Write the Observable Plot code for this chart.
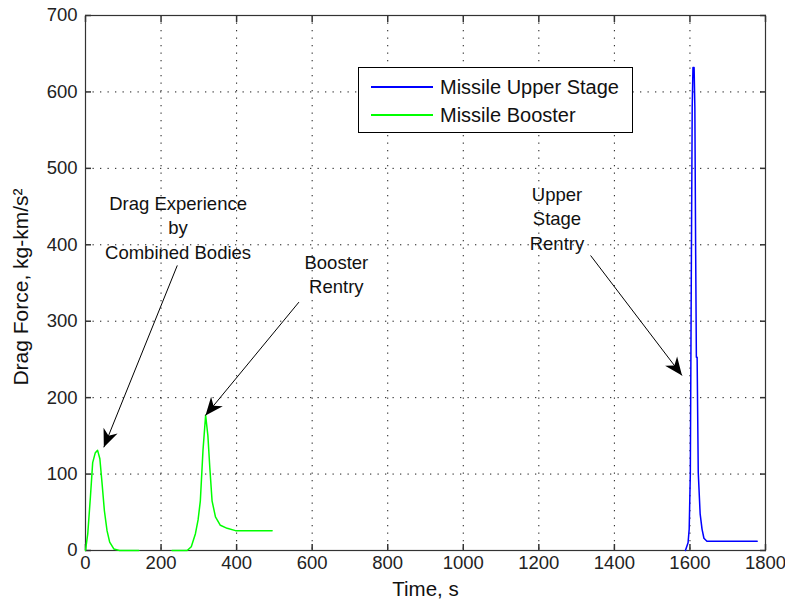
<!DOCTYPE html>
<html><head><meta charset="utf-8">
<script src="https://cdn.jsdelivr.net/npm/d3@7"></script>
<script src="https://cdn.jsdelivr.net/npm/@observablehq/plot@0.6"></script>
<style>
body{margin:0;background:#fff;}
#wrap{position:relative;width:785px;height:607px;font-family:"Liberation Sans",Arial,sans-serif;}
#legend{position:absolute;left:358px;top:67px;width:275px;height:66px;border:1px solid #000;background:#fff;box-sizing:border-box;}
.row{position:absolute;left:12px;height:24px;display:flex;align-items:center;font-size:20px;color:#111;white-space:nowrap;}
.sw{display:inline-block;width:62px;height:2px;margin-right:7px;}
</style></head><body><div id="wrap"></div>
<script>
// ---- data ----
const xTicks = [0, 200, 400, 600, 800, 1000, 1200, 1400, 1600, 1800];
const yTicks = [0, 100, 200, 300, 400, 500, 600, 700];
const seriesNames = ["Missile Upper Stage", "Missile Booster"];
const seriesColors = ["#0000ff", "#00ff00"];

const upperTime  = [1588, 1595, 1598, 1601, 1604, 1606, 1608, 1611, 1613, 1615, 1617, 1619, 1622, 1627, 1632, 1637, 1645, 1778];
const upperForce = [0,    10,   28,   100,  400,  580,  632,  632,  580,  400,  253,  253,  102,  48,   28,   16,   12,   12];

const boosterTime  = [0, 6, 13, 19, 26, 32, 38, 44, 50, 57, 64, 75, 90, 141, 185, 229, 269, 280, 291, 298, 304, 311, 318, 324, 329, 335, 344, 357, 375, 397, 494];
const boosterForce = [0, 22, 70, 115, 128, 131, 120, 87, 52, 26, 11, 2, 0, 0, NaN, 0, 0, 5, 22, 40, 65, 131, 177, 150, 109, 65, 44, 33, 29, 26, 26];

const noteText = ["Drag Experience\nby\nCombined Bodies", "Booster\nRentry", "Upper\nStage\nRentry"];
const noteX = [245, 664, 1248];
const noteY = [424, 363, 436];

const arrowX1 = [243, 565, 1337];
const arrowY1 = [373, 325, 386];
const arrowX2 = [48.5, 317.6, 1579];
const arrowY2 = [135, 176.7, 229];

const xLabel = "Time, s";
const yLabel = "Drag Force, kg-km/s²";

// ---- build ----
const W = 785, H = 607, mL = 85, mR = 20, mT = 15, mB = 57;
const xDomain = [0, 1800], yDomain = [0, 700];
const sx = d3.scaleLinear(xDomain, [mL, W - mR]);
const sy = d3.scaleLinear(yDomain, [H - mB, mT]);

const upper = upperTime.map((t, i) => ({t, f: upperForce[i]}));
const booster = boosterTime.map((t, i) => ({t, f: boosterForce[i]}));
const notes = noteText.map((s, i) => ({s, x: noteX[i], y: noteY[i]}));
const arrows = arrowX1.map((x1, i) => {
  const x2 = arrowX2[i], y1 = arrowY1[i], y2 = arrowY2[i];
  const dx = sx(x2) - sx(x1), dy = sy(y2) - sy(y1);
  return {x1, y1, x2, y2, rot: Math.atan2(dx, -dy) * 180 / Math.PI};
});

const head = {
  draw(ctx, l) {
    const w = l * 0.42;
    ctx.moveTo(0, -l);
    ctx.lineTo(w, 0);
    ctx.lineTo(0, -l * 0.3);
    ctx.lineTo(-w, 0);
    ctx.closePath();
  }
};

const gridStyle = {stroke: "#000", strokeOpacity: 0.9, strokeWidth: 1, strokeDasharray: "1.3,6.2"};
const axisColor = "#333";

const chart = Plot.plot({
  width: W, height: H,
  marginLeft: mL, marginRight: mR, marginTop: mT, marginBottom: mB,
  style: {fontFamily: '"Liberation Sans", Arial, sans-serif', fontSize: "18.5px", color: "#222", background: "#fff", overflow: "visible"},
  x: {domain: xDomain},
  y: {domain: yDomain},
  marks: [
    Plot.gridX(xTicks, gridStyle),
    Plot.gridY(yTicks, gridStyle),
    Plot.axisX(xTicks, {anchor: "bottom", tickSize: 0, tickPadding: 5, label: null, tickFormat: d => String(d)}),
    Plot.axisY(yTicks, {anchor: "left", tickSize: 0, tickPadding: 8, label: null, tickFormat: d => String(d)}),
    Plot.axisX(xTicks, {anchor: "bottom", tickSize: -6, tickFormat: () => "", label: null, stroke: axisColor, strokeWidth: 1.5}),
    Plot.axisX(xTicks, {anchor: "top", tickSize: -6, tickFormat: () => "", label: null, stroke: axisColor, strokeWidth: 1.5}),
    Plot.axisY(yTicks, {anchor: "left", tickSize: -6, tickFormat: () => "", label: null, stroke: axisColor, strokeWidth: 1.5}),
    Plot.axisY(yTicks, {anchor: "right", tickSize: -6, tickFormat: () => "", label: null, stroke: axisColor, strokeWidth: 1.5}),
    Plot.frame({stroke: axisColor, strokeWidth: 1.2}),
    Plot.line(upper, {x: "t", y: "f", stroke: seriesColors[0], strokeWidth: 1.5, curve: "linear"}),
    Plot.line(booster, {x: "t", y: "f", stroke: seriesColors[1], strokeWidth: 1.5, curve: "linear"}),
    Plot.link(arrows, {x1: "x1", y1: "y1", x2: "x2", y2: "y2", stroke: "#000", strokeWidth: 1}),
    Plot.vector(arrows, {x: "x2", y: "y2", rotate: "rot", length: 18, anchor: "end", shape: head, fill: "#000", stroke: "none"}),
    Plot.text(notes, {x: "x", y: "y", text: "s", lineHeight: 1.32, fill: "#111", fontSize: 18.5}),
    Plot.text([xLabel], {text: d => d, frameAnchor: "bottom", dy: 45, fill: "#111", fontSize: 20.5}),
    Plot.text([yLabel], {text: d => d, frameAnchor: "left", textAnchor: "middle", rotate: -90, dx: -64, dy: 4, fill: "#111", fontSize: 21})
  ]
});

const wrap = document.getElementById("wrap");
wrap.appendChild(chart);
const lg = document.createElement("div");
lg.id = "legend";
seriesNames.forEach((name, i) => {
  const row = document.createElement("div");
  row.className = "row";
  row.style.top = (i === 0 ? 7 : 35) + "px";
  const sw = document.createElement("span");
  sw.className = "sw";
  sw.style.background = seriesColors[i];
  const tx = document.createElement("span");
  tx.textContent = name;
  row.appendChild(sw); row.appendChild(tx);
  lg.appendChild(row);
});
wrap.appendChild(lg);
</script></body></html>
